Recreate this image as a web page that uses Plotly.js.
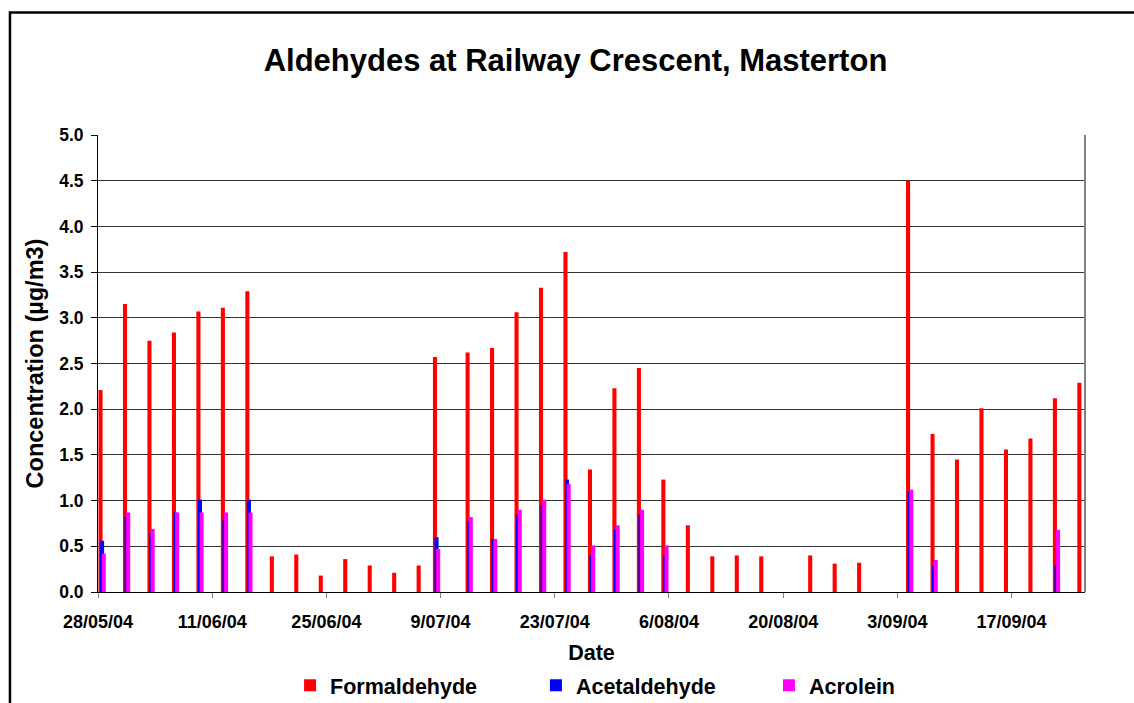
<!DOCTYPE html>
<html>
<head>
<meta charset="utf-8">
<script src="https://cdn.plot.ly/plotly-3.0.1.min.js"></script>
<style>html,body{margin:0;padding:0;background:#fff;}#chart{width:1134px;height:703px;}</style>
</head>
<body>
<div id="chart"></div>
<script>
// ---- Data ----
const sampleDates = ['2004-05-28','2004-05-31','2004-06-03','2004-06-06','2004-06-09','2004-06-12','2004-06-15','2004-06-18','2004-06-21','2004-06-24','2004-06-27','2004-06-30','2004-07-03','2004-07-06','2004-07-08','2004-07-12','2004-07-15','2004-07-18','2004-07-21','2004-07-24','2004-07-27','2004-07-30','2004-08-02','2004-08-05','2004-08-08','2004-08-11','2004-08-14','2004-08-17','2004-08-23','2004-08-26','2004-08-29','2004-09-04','2004-09-07','2004-09-10','2004-09-13','2004-09-16','2004-09-19','2004-09-22','2004-09-25'];
const formaldehyde = [2.21,3.15,2.75,2.84,3.07,3.11,3.29,0.39,0.41,0.18,0.36,0.29,0.21,0.29,2.57,2.62,2.67,3.06,3.33,3.72,1.34,2.23,2.45,1.23,0.73,0.39,0.40,0.39,0.40,0.31,0.32,4.50,1.73,1.45,2.01,1.56,1.68,2.12,2.29];
const acetaldehyde = [0.56,0.82,0.65,0.87,1.01,0.79,1.01,null,null,null,null,null,null,null,0.60,0.78,0.58,0.84,0.95,1.23,0.40,0.68,0.84,0.40,null,null,null,null,null,null,null,1.10,0.29,null,null,null,null,0.29,null];
const acrolein = [0.42,0.87,0.69,0.87,0.87,0.87,0.87,null,null,null,null,null,null,null,0.47,0.82,0.58,0.90,1.01,1.18,0.51,0.73,0.90,0.51,null,null,null,null,null,null,null,1.12,0.35,null,null,null,null,0.68,null];
const seriesNames = ['Formaldehyde','Acetaldehyde','Acrolein'];
const tickDates = ['2004-05-28','2004-06-11','2004-06-25','2004-07-09','2004-07-23','2004-08-06','2004-08-20','2004-09-03','2004-09-17'];
const tickLabels = ['28/05/04','11/06/04','25/06/04','9/07/04','23/07/04','6/08/04','20/08/04','3/09/04','17/09/04'];
const xRange = ['2004-05-28','2004-09-26'];
const chartTitle = 'Aldehydes at Railway Crescent, Masterton';
const xTitle = 'Date';
const yTitle = 'Concentration (µg/m3)';

// ---- Styling ----
const DAY = 86400000;
const FONT = 'Liberation Sans, Arial, Helvetica, sans-serif';
const colors = ['#FF0000','#0000FF','#FF00FF'];
const offsets = [0.06, 0.25, 0.45];
const seriesValues = [formaldehyde, acetaldehyde, acrolein];
const legendIds = ['legend','legend2','legend3'];

const traces = seriesValues.map((vals, i) => ({
  type: 'bar',
  name: seriesNames[i],
  x: sampleDates,
  y: vals,
  width: 0.5 * DAY,
  offset: offsets[i] * DAY,
  marker: {color: colors[i], line: {width: 0}},
  legend: legendIds[i],
  hoverinfo: 'x+y+name'
}));

const legendFont = {family: FONT, size: 21.5, color: '#000', weight: 'bold'};
function mkLegend(x) {
  return {x: x, y: -0.204, xref: 'paper', yref: 'paper', xanchor: 'left', yanchor: 'middle',
          orientation: 'h', font: legendFont, bgcolor: 'rgba(0,0,0,0)', borderwidth: 0};
}

const layout = {
  width: 1134, height: 703,
  margin: {l: 98, r: 49, t: 135, b: 111, pad: 0, autoexpand: false},
  paper_bgcolor: '#fff', plot_bgcolor: '#fff',
  barmode: 'overlay',
  showlegend: true,
  font: {family: FONT, color: '#000'},
  title: {text: chartTitle, font: {family: FONT, size: 31, weight: 'bold', color: '#000'},
          xref: 'container', x: 0.5075, xanchor: 'center', yref: 'container', y: 0.9147, yanchor: 'middle'},
  xaxis: {
    type: 'date', range: xRange, autorange: false,
    tickmode: 'array', tickvals: tickDates, ticktext: tickLabels,
    ticks: 'outside', ticklen: 5, tickwidth: 1, tickcolor: '#808080',
    ticklabelstandoff: 8,
    showline: true, linecolor: '#000', linewidth: 1,
    showgrid: false, zeroline: false, automargin: false,
    tickfont: {family: FONT, size: 18, weight: 'bold', color: '#000'},
    title: {text: xTitle, font: {family: FONT, size: 21.5, weight: 'bold', color: '#000'}, standoff: 14}
  },
  yaxis: {
    range: [0, 5], autorange: false, tick0: 0, dtick: 0.5, tickformat: '.1f',
    ticks: 'outside', ticklen: 6, tickwidth: 1, tickcolor: '#000',
    ticklabelstandoff: 4,
    showline: true, linecolor: '#000', linewidth: 1,
    showgrid: true, gridcolor: '#333', gridwidth: 1, zeroline: false, automargin: false,
    tickfont: {family: FONT, size: 17.5, weight: 'bold', color: '#000'},
    title: {text: yTitle, font: {family: FONT, size: 23.5, weight: 'bold', color: '#000'}, standoff: 8}
  },
  legend: mkLegend(0.1946),
  legend2: mkLegend(0.4437),
  legend3: mkLegend(0.6798),
  shapes: [
    {type: 'line', xref: 'paper', yref: 'paper', x0: 1, x1: 1, y0: 0, y1: 1, line: {color: '#808080', width: 2}},
    {type: 'path', xref: 'paper', yref: 'paper', path: 'M -0.0892,-0.30 L -0.0892,1.2681 L 1.08,1.2681', line: {color: '#000', width: 2.5}}
  ]
};

Plotly.newPlot('chart', traces, layout, {displayModeBar: false, staticPlot: true});
</script>
</body>
</html>
